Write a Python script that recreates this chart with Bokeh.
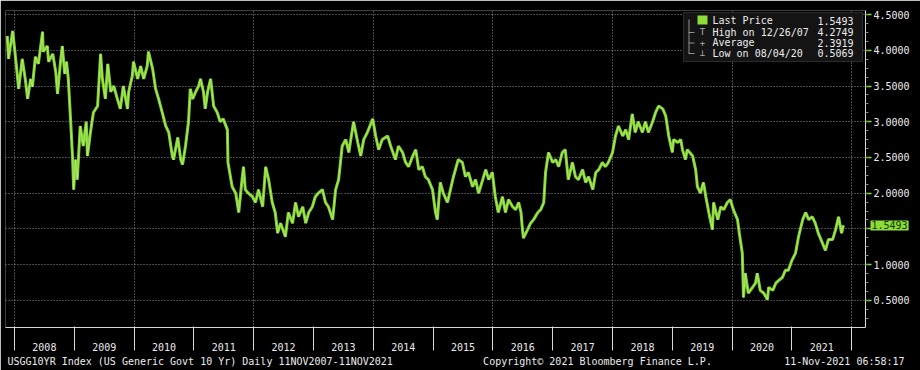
from bokeh.plotting import figure
from bokeh.models import (Range1d, FixedTicker, CustomJSTickFormatter,
                          Label, BoxAnnotation, Title)
from bokeh.embed import file_html
from bokeh.resources import INLINE
import numpy as np

# ---- data ----
dates = [
    2007.88, 2007.90, 2007.97, 2008.02, 2008.07, 2008.13, 2008.18, 2008.22, 2008.27, 2008.30,
    2008.35, 2008.40, 2008.47, 2008.48, 2008.55, 2008.57, 2008.64, 2008.69, 2008.72, 2008.77,
    2008.80, 2008.84, 2008.87, 2008.90, 2008.94, 2008.97, 2008.99, 2009.02, 2009.05, 2009.10,
    2009.15, 2009.20, 2009.22, 2009.27, 2009.32, 2009.39, 2009.44, 2009.47, 2009.52, 2009.56,
    2009.61, 2009.66, 2009.72, 2009.77, 2009.82, 2009.89, 2009.91, 2009.97, 2009.99, 2010.06,
    2010.11, 2010.16, 2010.22, 2010.24, 2010.31, 2010.36, 2010.41, 2010.47, 2010.53, 2010.58,
    2010.64, 2010.66, 2010.73, 2010.78, 2010.81, 2010.86, 2010.91, 2010.94, 2010.98, 2011.03,
    2011.08, 2011.11, 2011.16, 2011.19, 2011.23, 2011.28, 2011.33, 2011.39, 2011.44, 2011.49,
    2011.56, 2011.57, 2011.64, 2011.70, 2011.75, 2011.81, 2011.83, 2011.86, 2011.91, 2011.98,
    2012.03, 2012.08, 2012.15, 2012.20, 2012.25, 2012.31, 2012.36, 2012.40, 2012.45, 2012.53,
    2012.58, 2012.65, 2012.70, 2012.75, 2012.82, 2012.87, 2012.92, 2012.98, 2013.03, 2013.08,
    2013.15, 2013.20, 2013.25, 2013.32, 2013.37, 2013.42, 2013.48, 2013.54, 2013.59, 2013.67,
    2013.74, 2013.79, 2013.84, 2013.90, 2013.99, 2014.04, 2014.09, 2014.15, 2014.24, 2014.29,
    2014.37, 2014.42, 2014.49, 2014.54, 2014.59, 2014.66, 2014.71, 2014.76, 2014.82, 2014.87,
    2014.92, 2014.99, 2015.04, 2015.07, 2015.12, 2015.17, 2015.24, 2015.29, 2015.34, 2015.42,
    2015.49, 2015.54, 2015.59, 2015.66, 2015.71, 2015.76, 2015.83, 2015.88, 2015.93, 2015.99,
    2016.04, 2016.09, 2016.16, 2016.21, 2016.26, 2016.33, 2016.38, 2016.43, 2016.47, 2016.49,
    2016.51, 2016.58, 2016.63, 2016.68, 2016.75, 2016.80, 2016.85, 2016.88, 2016.93, 2017.00,
    2017.05, 2017.10, 2017.16, 2017.21, 2017.26, 2017.33, 2017.38, 2017.43, 2017.50, 2017.55,
    2017.60, 2017.67, 2017.72, 2017.77, 2017.83, 2017.88, 2017.93, 2018.00, 2018.05, 2018.10,
    2018.17, 2018.22, 2018.27, 2018.33, 2018.38, 2018.43, 2018.50, 2018.55, 2018.60, 2018.67,
    2018.72, 2018.77, 2018.84, 2018.89, 2018.94, 2019.00, 2019.02, 2019.09, 2019.14, 2019.17,
    2019.22, 2019.25, 2019.34, 2019.39, 2019.42, 2019.47, 2019.52, 2019.56, 2019.61, 2019.67,
    2019.69, 2019.76, 2019.81, 2019.86, 2019.92, 2019.97, 2020.02, 2020.09, 2020.12, 2020.17,
    2020.19, 2020.22, 2020.27, 2020.34, 2020.39, 2020.42, 2020.47, 2020.53, 2020.59, 2020.61,
    2020.68, 2020.73, 2020.78, 2020.84, 2020.89, 2020.94, 2021.00, 2021.06, 2021.11, 2021.18,
    2021.23, 2021.28, 2021.34, 2021.39, 2021.44, 2021.51, 2021.56, 2021.61, 2021.68, 2021.73,
    2021.78, 2021.83, 2021.86,
]
yields = [
    4.20, 3.88, 4.27, 3.88, 3.46, 3.88, 3.60, 3.32, 3.60, 3.49,
    3.91, 3.81, 4.26, 3.98, 4.06, 3.84, 3.95, 3.70, 3.39, 3.84,
    4.06, 3.67, 3.84, 3.60, 3.00, 2.52, 2.05, 2.47, 2.19, 2.94,
    2.66, 3.00, 2.52, 2.85, 3.13, 3.22, 3.95, 3.60, 3.32, 3.81,
    3.42, 3.50, 3.32, 3.18, 3.50, 3.18, 3.42, 3.64, 3.84, 3.60,
    3.78, 3.60, 3.78, 3.98, 3.74, 3.46, 3.32, 3.13, 2.94, 2.85,
    2.52, 2.47, 2.78, 2.47, 2.40, 2.66, 3.00, 3.46, 3.32, 3.42,
    3.50, 3.60, 3.42, 3.18, 3.42, 3.60, 3.22, 3.13, 3.00, 3.04,
    2.89, 2.43, 2.09, 2.00, 1.73, 2.23, 2.37, 2.05, 2.00, 1.95,
    1.87, 2.05, 1.81, 2.37, 2.19, 1.87, 1.73, 1.44, 1.58, 1.39,
    1.73, 1.58, 1.87, 1.67, 1.81, 1.58, 1.73, 1.81, 1.95, 2.00,
    2.05, 1.87, 1.81, 1.63, 2.05, 2.19, 2.66, 2.75, 2.57, 3.00,
    2.71, 2.52, 2.75, 2.85, 3.04, 2.80, 2.61, 2.75, 2.80, 2.66,
    2.47, 2.66, 2.57, 2.43, 2.37, 2.52, 2.61, 2.33, 2.37, 2.23,
    2.19, 2.05, 1.73, 1.63, 2.15, 2.00, 1.87, 2.05, 2.23, 2.47,
    2.43, 2.23, 2.29, 2.09, 2.19, 2.00, 2.19, 2.33, 2.19, 2.29,
    1.95, 1.73, 1.95, 1.73, 1.91, 1.81, 1.77, 1.87, 1.73, 1.53,
    1.37, 1.49, 1.58, 1.63, 1.73, 1.77, 1.87, 2.29, 2.57, 2.43,
    2.47, 2.37, 2.57, 2.61, 2.19, 2.43, 2.23, 2.19, 2.33, 2.15,
    2.23, 2.05, 2.29, 2.33, 2.43, 2.37, 2.43, 2.57, 2.80, 2.94,
    2.80, 2.89, 2.75, 3.11, 2.85, 3.00, 2.85, 3.00, 2.85, 3.00,
    3.13, 3.22, 3.18, 3.08, 2.80, 2.57, 2.75, 2.71, 2.75, 2.61,
    2.47, 2.61, 2.52, 2.33, 2.09, 2.00, 2.15, 1.95, 1.73, 1.49,
    1.87, 1.63, 1.81, 1.77, 1.87, 1.91, 1.77, 1.63, 1.44, 1.16,
    0.54, 0.88, 0.60, 0.68, 0.74, 0.88, 0.64, 0.60, 0.51, 0.68,
    0.64, 0.74, 0.78, 0.82, 0.92, 0.92, 1.06, 1.16, 1.39, 1.63,
    1.73, 1.63, 1.67, 1.58, 1.44, 1.30, 1.20, 1.35, 1.35, 1.49,
    1.67, 1.44, 1.55,
]

year_labels = list(range(2008, 2022))
year_bounds = list(range(2008, 2023))
grid_years = [2008, 2010, 2012, 2014, 2016, 2018, 2020, 2022]
y_ticks = [0.5, 1.0, 1.5, 2.0, 2.5, 3.0, 3.5, 4.0, 4.5]

legend_labels = ["Last Price", "High on 12/26/07", "Average", "Low on 08/04/20"]
legend_values = ["1.5493", "4.2749", "2.3919", "0.5069"]
last_price = 1.5493

footer_left = "USGG10YR Index (US Generic Govt 10 Yr)  Daily 11NOV2007-11NOV2021"
footer_mid = "Copyright\u00a9 2021 Bloomberg Finance L.P."
footer_right = "11-Nov-2021 06:58:17"

GREEN = "#8ddc38"
FONT = "DejaVu Sans Mono"
TXT = "#ececec"
NB = "\u00a0"

X0, X1 = 2007.85, 2022.23
p = figure(width=920, height=370, x_range=Range1d(X0, X1), y_range=Range1d(0.12, 4.557),
           y_axis_location="right", output_backend="svg", toolbar_location=None,
           background_fill_color="black", border_fill_color="black",
           min_border_left=5, min_border_right=55, min_border_top=0, min_border_bottom=43)
p.outline_line_color = None

# grids
p.xgrid.ticker = FixedTicker(ticks=grid_years)
p.ygrid.ticker = FixedTicker(ticks=y_ticks)
for g in (p.xgrid[0], p.ygrid[0]):
    g.grid_line_color = "#c0c0c0"
    g.grid_line_alpha = 0.75
    g.grid_line_dash = "1 2"
    g.grid_line_width = 1

# x axis: year boundaries as (minor) tick lines, labels centred in each year
xa = p.xaxis[0]
xa.ticker = FixedTicker(ticks=[y + 0.5 for y in year_labels], minor_ticks=year_bounds)
xa.formatter = CustomJSTickFormatter(code="return String(Math.floor(tick));")
xa.major_tick_out = 0
xa.major_tick_in = 0
xa.minor_tick_out = 23
xa.minor_tick_in = 1
xa.minor_tick_line_color = "#d8d8d8"
xa.axis_line_color = "#d8d8d8"
xa.major_label_standoff = -8
xa.major_label_text_color = TXT
xa.major_label_text_font = FONT
xa.major_label_text_font_size = "10px"

# y axis (right); the 1.5 label is covered by the last-price tag
ya = p.yaxis[0]
ya.ticker = FixedTicker(ticks=y_ticks, minor_ticks=list(np.arange(0.25, 4.6, 0.125)))
ya.formatter = CustomJSTickFormatter(code="return Math.abs(tick - 1.5) < 1e-9 ? '' : tick.toFixed(4);")
ya.major_tick_out = 6
ya.major_tick_in = 0
ya.major_tick_line_color = GREEN
ya.major_tick_line_width = 1.5
ya.minor_tick_out = 3
ya.minor_tick_in = 0
ya.minor_tick_line_color = "#7a9a60"
ya.axis_line_color = "#d8d8d8"
ya.major_label_standoff = 2
ya.major_label_text_color = TXT
ya.major_label_text_font = FONT
ya.major_label_text_font_size = "10px"

# line
p.line(dates, yields, line_color="#7fd12b", line_width=3)
p.line(dates, yields, line_color="#c2f08a", line_width=1, line_alpha=0.7)

# last-price tag (placed in a side panel so it is not clipped to the frame)
p.add_layout(Label(x=870, x_units="canvas", y=last_price, y_units="data", text="1.5493",
                   text_font=FONT, text_font_size="10px", text_color="#123800",
                   text_baseline="middle", text_align="left", padding=1,
                   background_fill_color=GREEN, background_fill_alpha=1.0), "above")


def lab(x, y, text, size="10px", color=TXT, align="left"):
    p.add_layout(Label(x=x, y=y, x_units="canvas", y_units="canvas", text=text,
                       text_font=FONT, text_font_size=size, text_color=color,
                       text_align=align, text_baseline="middle"))


def box(l, r, t, b, color, line=None):
    p.add_layout(BoxAnnotation(left=l, right=r, top=t, bottom=b,
                               left_units="canvas", right_units="canvas",
                               top_units="canvas", bottom_units="canvas",
                               fill_color=color, fill_alpha=1.0,
                               line_color=line, line_alpha=1.0 if line else 0))


# legend box (top right, inside the plot)
box(683, 862, 12, 61, "#141414", "#2a2a2a")
rows = [20, 31.5, 42, 52.5]
box(688, 689, 19, 53, "#909090")
for ry in rows[1:]:
    box(688, 694, ry, ry + 1, "#909090")
box(697, 707, 15, 24, GREEN)
lab(702, rows[1], "T", size="9px", color="#b0b0b0", align="center")
lab(702, rows[2], "+", size="9px", color="#b0b0b0", align="center")
lab(702, rows[3], "\u22a5", size="9px", color="#b0b0b0", align="center")
for ry, t, v in zip(rows, legend_labels, legend_values):
    lab(712, ry, t)
    lab(853, ry, v, align="right")

# footer line (monospace, padded with no-break spaces)
footer = footer_left + NB * 15 + footer_mid + NB * 12 + footer_right
p.add_layout(Title(text=footer, align="left", offset=2, standoff=0, text_font=FONT,
                   text_font_size="10px", text_color=TXT, text_font_style="normal"), "below")

open("out.html", "w").write(file_html(p, INLINE))
